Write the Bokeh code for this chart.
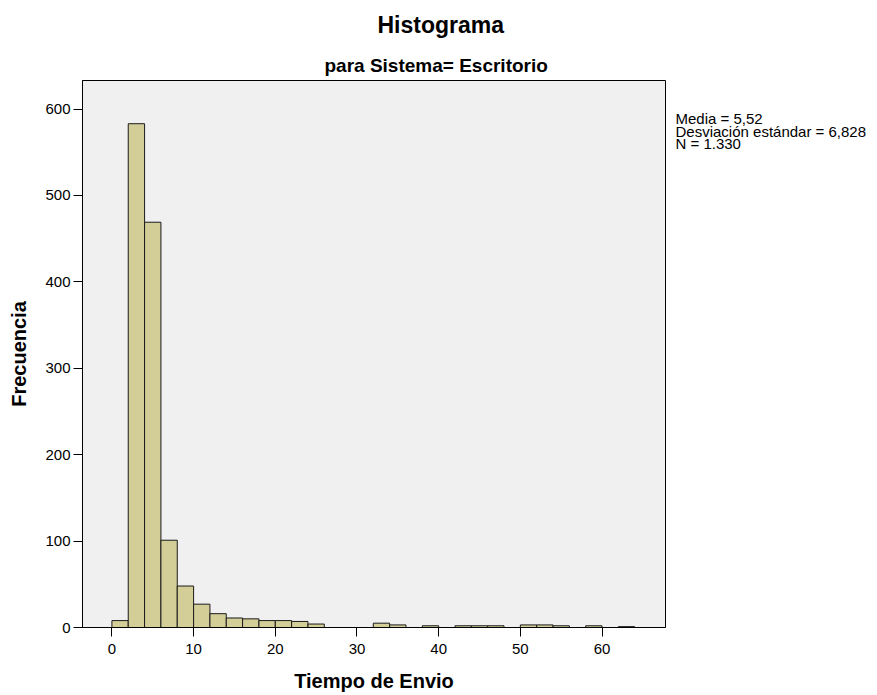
from bokeh.plotting import figure
from bokeh.models import Title, Range1d
from bokeh.layouts import row
from bokeh.core.properties import value
from bokeh.embed import file_html
from bokeh.resources import INLINE

# ---- data ----
bin_start = [0, 2, 4, 6, 8, 10, 12, 14, 16, 18, 20, 22, 24, 26, 28, 30,
             32, 34, 36, 38, 40, 42, 44, 46, 48, 50, 52, 54, 56, 58, 60, 62]
counts = [8, 583, 469, 101, 48, 27, 16, 11, 10, 8, 8, 7, 4, 0, 0, 0,
          5, 3, 0, 2, 0, 2, 2, 2, 0, 3, 3, 2, 0, 2, 0, 1]
bin_width = 2
x_ticks = [0, 10, 20, 30, 40, 50, 60]
y_ticks = [0, 100, 200, 300, 400, 500, 600]
title_text = "Histograma"
subtitle_text = "para Sistema= Escritorio"
x_label = "Tiempo de Envio"
y_label = "Frecuencia"
stats_lines = ["Media = 5,52", "Desviación estándar = 6,828", "N = 1.330"]

FONT = "Liberation Sans"

left = [b for b, c in zip(bin_start, counts) if c > 0]
top = [c for c in counts if c > 0]
right = [b + bin_width for b in left]

H = 694
BT, BB = 80, 66   # top / bottom borders shared by both panels
p = figure(width=671, height=H, title=None,
           x_range=Range1d(-3.6, 67.77), y_range=Range1d(0, 633),
           output_backend="svg", toolbar_location=None,
           min_border_left=82, min_border_right=6,
           min_border_top=BT, min_border_bottom=BB,
           background_fill_color="#F0F0F0", border_fill_color="white",
           outline_line_color="black", outline_line_width=1)

p.quad(left=left, right=right, top=top, bottom=0,
       fill_color="#D3CE98", line_color="#1a1a1a", line_width=1)

sub = Title(text=subtitle_text, align="left", offset=242,
            text_font=FONT, text_font_size="19px", text_font_style="bold",
            text_color="black", standoff=9)
main = Title(text=title_text, align="left", offset=295, vertical_align="top",
             text_font=FONT, text_font_size="23px", text_font_style="bold",
             text_color="black", standoff=17)
p.add_layout(sub, "above")
p.add_layout(main, "above")

p.grid.visible = False
for ax in (p.xaxis[0], p.yaxis[0]):
    ax.axis_line_color = "black"
    ax.major_tick_line_color = "black"
    ax.major_tick_out = 9
    ax.major_tick_in = 0
    ax.minor_tick_out = 0
    ax.minor_tick_in = 0
    ax.major_label_text_font = FONT
    ax.major_label_text_font_size = "15px"
    ax.major_label_text_color = "black"
    ax.axis_label_text_font = FONT
    ax.axis_label_text_font_size = "20px"
    ax.axis_label_text_font_style = "bold"
    ax.axis_label_text_color = "black"

p.xaxis.ticker = x_ticks
p.yaxis.ticker = y_ticks
p.xaxis.axis_label = x_label
p.yaxis.axis_label = y_label
p.xaxis.major_label_standoff = 7
p.xaxis.axis_label_standoff = 13
p.yaxis.major_label_standoff = 3
p.yaxis.axis_label_standoff = 12

# side panel with the summary statistics (pixel space, y downwards)
side_w = 205
s = figure(width=side_w, height=H, title=None,
           x_range=Range1d(0, side_w), y_range=Range1d(H - BB, BT),
           output_backend="svg", toolbar_location=None,
           min_border_left=0, min_border_right=0,
           min_border_top=BT, min_border_bottom=BB,
           outline_line_color=None,
           x_axis_type=None, y_axis_type=None,
           background_fill_color="white", border_fill_color="white")
s.grid.visible = False
line_x = [4] * len(stats_lines)
line_y = [110 + 12.5 * i for i in range(len(stats_lines))]
s.text(x=line_x, y=line_y, text=stats_lines,
       text_font=value(FONT), text_font_size="15px",
       text_baseline="top", text_align="left", text_color="black")

layout = row(p, s)
open("out.html", "w").write(file_html(layout, INLINE))
